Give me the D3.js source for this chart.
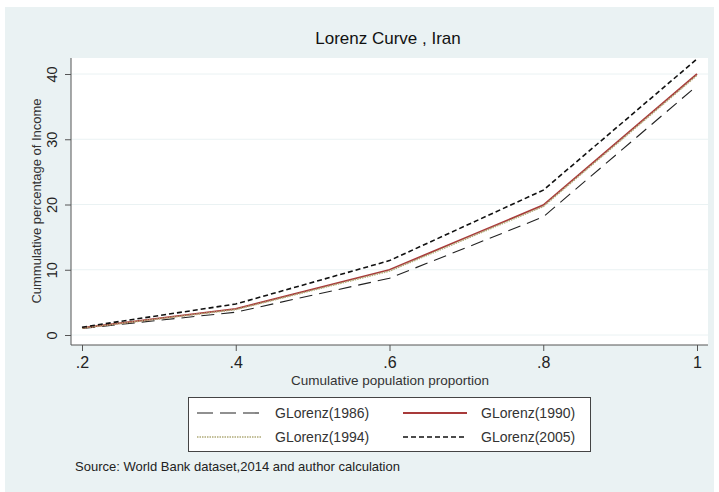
<!DOCTYPE html>
<html><head><meta charset="utf-8">
<script src="https://cdn.jsdelivr.net/npm/d3@7"></script>
<style>body{margin:0;background:#fff}svg{display:block;font-family:"Liberation Sans",Arial,sans-serif}</style>
</head><body>
<svg id="c" width="719" height="492"></svg>
<script>
const xValues = [0.2, 0.4, 0.6, 0.8, 1.0];
const g1986 = [1.0, 3.5, 8.7, 18.1, 38.2];
const g1990 = [1.1, 4.0, 10.0, 19.9, 40.0];
const g1994 = [1.05, 3.9, 9.8, 19.7, 39.8];
const g2005 = [1.2, 4.75, 11.4, 22.2, 42.3];
const xTicks = [0.2, 0.4, 0.6, 0.8, 1.0];
const xTickLabels = [".2", ".4", ".6", ".8", "1"];
const yTicks = [0, 10, 20, 30, 40];
const seriesNames = ["GLorenz(1986)", "GLorenz(1990)", "GLorenz(1994)", "GLorenz(2005)"];

const svg = d3.select("#c");
svg.append("rect").attr("x",5).attr("y",7).attr("width",709).attr("height",485).attr("fill","#eaf2f3");
const L=71,R=708,T=58,B=345;
svg.append("rect").attr("x",L).attr("y",T).attr("width",R-L).attr("height",B-T).attr("fill","#fff");

const x = d3.scaleLinear().domain([0.2,1.0]).range([82,697]);
const y = d3.scaleLinear().domain([0,40]).range([335,74]);

// grid
svg.append("g").selectAll("line").data(yTicks).join("line")
  .attr("x1",L).attr("x2",R).attr("y1",d=>y(d)).attr("y2",d=>y(d))
  .attr("stroke","#eaf2f3").attr("stroke-width",1);

// axes
const xa = svg.append("g").attr("transform",`translate(0,${B})`)
  .call(d3.axisBottom(x).tickValues(xTicks).tickFormat((d,i)=>xTickLabels[i]).tickSize(6).tickPadding(6).tickSizeOuter(0));
xa.select(".domain").attr("d",`M${L},0H${R}`).attr("stroke","#555");
xa.selectAll(".tick line").attr("stroke","#555");
xa.selectAll("text").attr("font-size",16).attr("fill","#222").attr("font-family","Liberation Sans, Arial");

const ya = svg.append("g").attr("transform",`translate(${L},0)`)
  .call(d3.axisLeft(y).tickValues(yTicks).tickSize(6).tickPadding(4).tickSizeOuter(0));
ya.select(".domain").attr("d",`M0,${T}V${B}`).attr("stroke","#555");
ya.selectAll(".tick line").attr("stroke","#555");
ya.selectAll("text").attr("font-size",14.5).attr("fill","#222").attr("font-family","Liberation Sans, Arial")
  .attr("text-anchor","middle").attr("transform","rotate(-90)").attr("x",0).attr("dy",0)
  .attr("y",-14);

// titles
svg.append("text").attr("x",388).attr("y",44).attr("text-anchor","middle").attr("font-size",17).attr("fill","#111").text("Lorenz Curve , Iran");
svg.append("text").attr("x",390).attr("y",385).attr("text-anchor","middle").attr("font-size",13.5).attr("fill","#333").text("Cumulative population proportion");
svg.append("text").attr("transform","translate(41,201) rotate(-90)").attr("text-anchor","middle").attr("font-size",13).attr("fill","#333").text("Cummulative percentage of Income");
svg.append("text").attr("x",75).attr("y",471).attr("font-size",13).attr("fill","#222").text("Source: World Bank dataset,2014 and author calculation");

const styles = [
  {data:g1986, color:"#222", dash:"13,7", w:1.1},
  {data:g1990, color:"#a83a3a", dash:null, w:1.8},
  {data:g1994, color:"#b0aa78", dash:"1.5,1", w:1.6},
  {data:g2005, color:"#111", dash:"5,3", w:1.6}
];
const line = d3.line().x((d,i)=>x(xValues[i])).y(d=>y(d));
styles.forEach(s=>{
  svg.append("path").attr("d",line(s.data)).attr("fill","none").attr("stroke",s.color)
    .attr("stroke-width",s.w).attr("stroke-dasharray",s.dash);
});

// legend
svg.append("rect").attr("x",188.5).attr("y",397.5).attr("width",402).attr("height",54).attr("fill","#fff").attr("stroke","#444").attr("stroke-width",1);
const pos = [[197,413],[403,413],[197,437],[403,437]];
styles.forEach((s,i)=>{
  const [px,py]=pos[i];
  svg.append("line").attr("x1",px).attr("x2",px+64).attr("y1",py).attr("y2",py)
    .attr("stroke",s.color).attr("stroke-width",s.w).attr("stroke-dasharray",i===0?"16,7":s.dash);
  svg.append("text").attr("x",px+78).attr("y",py+5).attr("font-size",14).attr("fill","#333").text(seriesNames[i]);
});
</script>
</body></html>
